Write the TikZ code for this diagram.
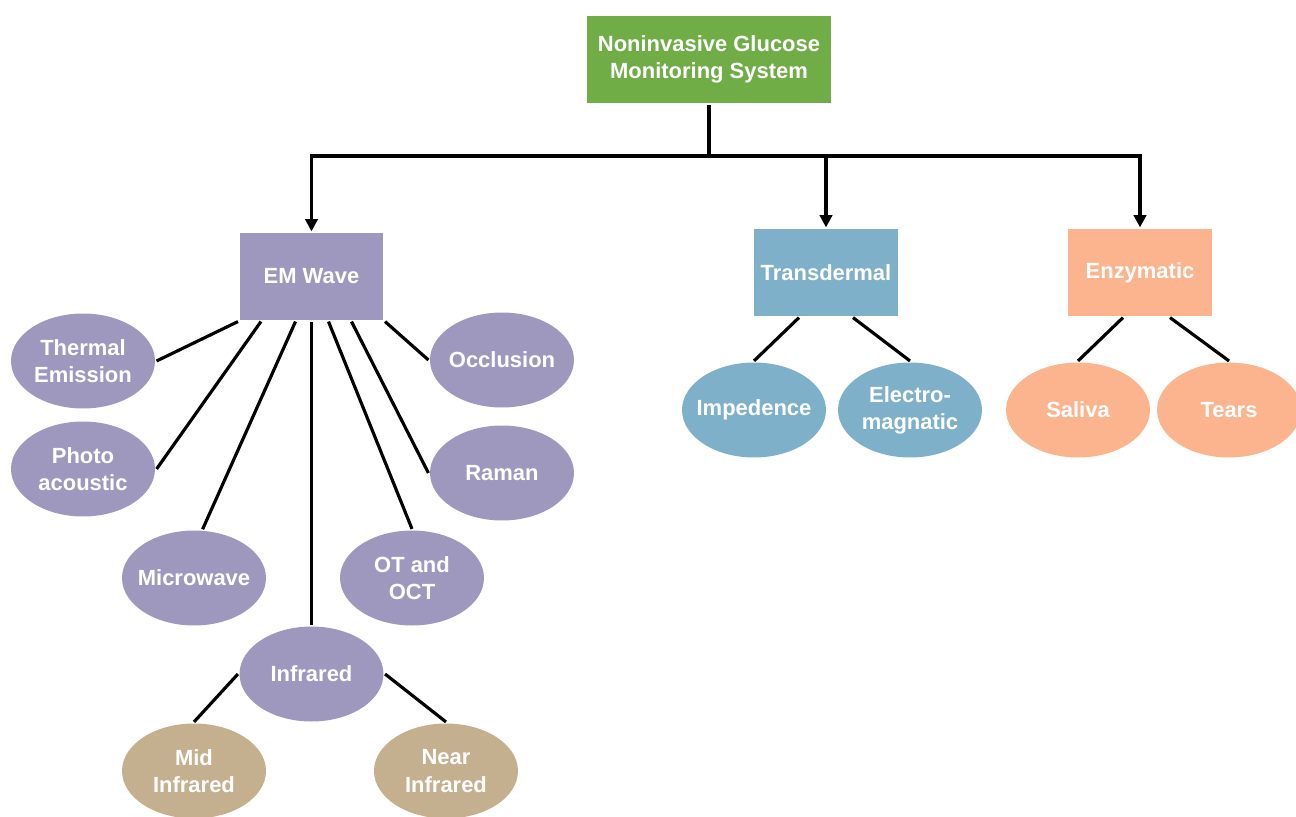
\documentclass[tikz,border=0pt]{standalone}
\usepackage{fontspec}
\setmainfont{Liberation Sans}
\usetikzlibrary{arrows.meta,shapes.geometric,calc}

\definecolor{rootgreen}{HTML}{70AD47}
\definecolor{emlav}{HTML}{9E98BE}
\definecolor{transblue}{HTML}{7EB1C9}
\definecolor{enzpeach}{HTML}{FBB48E}
\definecolor{irtan}{HTML}{C4B08E}

\begin{document}
\begin{tikzpicture}[x = 0.02cm, y = -0.02cm, > = {Triangle[width=7pt,length=7pt]}, line width = 1.8pt,
	lbl/.style = {text=white, font=\bfseries\fontsize{12.5}{15.5}\selectfont, align=center},
	box/.style = {lbl, fill=#1, minimum width=2.88cm, minimum height=1.74cm},
	oval/.style = {lbl, ellipse, fill=#1, minimum width=2.88cm, minimum height=1.9cm, inner sep=0pt, inner xsep=-8pt}]
		\useasboundingbox (0,0) rectangle (1296,816);
		% top level
		\node[box=rootgreen, minimum width=4.88cm] (root) at (709,59.5) {Noninvasive Glucose\\Monitoring System};
		\node[box=emlav] (em) at (311.5,276.5) {EM Wave};
		\node[box=transblue] (trans) at (826,272.5) {Transdermal};
		\node[box=enzpeach] (enz) at (1140,272.5) {Enzymatic};
		\coordinate (split) at (709,156);
		\draw (root.south) -- (split);
		\draw [->] (split) -| (em.north);
		\draw [->] (split) -| (trans.north);
		\draw [->] (split) -| (enz.north);
		% EM wave methods
		\node[oval=emlav] (thermal) at (83,361) {Thermal\\Emission};
		\node[oval=emlav] (photo) at (83,469) {Photo\\acoustic};
		\node[oval=emlav] (micro) at (194,578) {Microwave};
		\node[oval=emlav] (infra) at (311.5,674) {Infrared};
		\node[oval=emlav] (oct) at (412,578) {OT and\\OCT};
		\node[oval=emlav] (raman) at (502,473) {Raman};
		\node[oval=emlav] (occl) at (502,360) {Occlusion};
		\draw (em.south west) -- (thermal.east);
		\draw ($(em.south west)+(23,0)$) -- (photo.east);
		\draw ($(em.south)+(-16,0)$) -- (micro.80);
		\draw (em.south) -- (infra.north);
		\draw ($(em.south)+(17,0)$) -- (oct.north);
		\draw ($(em.south)+(40,0)$) -- (raman.west);
		\draw (em.south east) -- (occl.west);
		% infrared bands
		\node[oval=irtan] (mid) at (194,771) {Mid\\Infrared};
		\node[oval=irtan] (near) at (446,771) {Near\\Infrared};
		\draw (infra.west) -- (mid.north);
		\draw (infra.east) -- (near.north);
		% transdermal
		\node[oval=transblue] (imp) at (754,410) {Impedence};
		\node[oval=transblue] (elmag) at (910,410) {Electro-\\magnatic};
		\draw ($(trans.south)+(-27,0)$) -- (imp.north);
		\draw ($(trans.south)+(27,0)$) -- (elmag.north);
		% enzymatic
		\node[oval=enzpeach] (saliva) at (1078,410) {Saliva};
		\node[oval=enzpeach] (tears) at (1229,410) {Tears};
		\draw ($(enz.south)+(-17,0)$) -- (saliva.north);
		\draw ($(enz.south)+(30,0)$) -- (tears.north);
	\end{tikzpicture}
\end{document}
